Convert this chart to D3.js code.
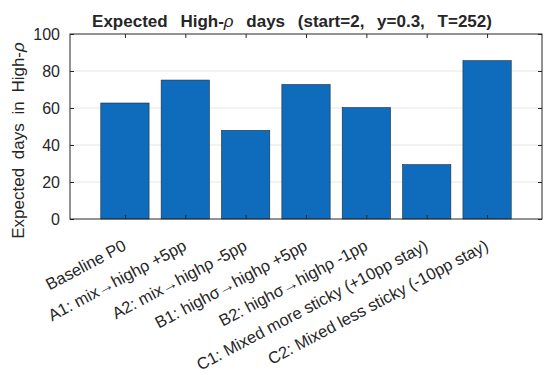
<!DOCTYPE html>
<html>
<head>
<meta charset="UTF-8">
<script src="https://d3js.org/d3.v7.min.js"></script>
<style>
  body { margin: 0; background: #fff; }
  svg text { font-family: "Liberation Sans", Arial, sans-serif; fill: #262626; }
</style>
</head>
<body>
<div id="chart"></div>
<script>
const categories = [
  "Baseline P0",
  "A1: mix\u2192high\u03c1 +5pp",
  "A2: mix\u2192high\u03c1 -5pp",
  "B1: high\u03c3\u2192high\u03c1 +5pp",
  "B2: high\u03c3\u2192high\u03c1 -1pp",
  "C1: Mixed more sticky (+10pp stay)",
  "C2: Mixed less sticky (-10pp stay)"
];
const values = [62.7, 75.1, 47.9, 72.7, 60.2, 29.4, 85.6];
const yTicks = [0, 20, 40, 60, 80, 100];

const W = 548, H = 375;
const margin = { top: 34, right: 6, bottom: 156, left: 70 };
const width = W - margin.left - margin.right,
      height = H - margin.top - margin.bottom;

const svg = d3.select("#chart").append("svg")
  .attr("width", W).attr("height", H);
const g = svg.append("g").attr("transform", `translate(${margin.left},${margin.top})`);

// x positions 1..7, MATLAB style limits
const idx = categories.map((d, i) => i + 1);
const x = d3.scaleLinear().domain([0.09, 7.91]).range([0, width]);
const y = d3.scaleLinear().domain([0, 100]).range([height, 0]);
const barW = x(1.4) - x(0.6);

// grid
g.append("g").selectAll("line").data(yTicks.slice(1, -1)).enter().append("line")
  .attr("x1", 0).attr("x2", width)
  .attr("y1", d => y(d)).attr("y2", d => y(d))
  .attr("stroke", "#e6e6e6").attr("stroke-width", 1);

// bars
g.selectAll(".bar").data(values).enter().append("rect")
  .attr("class", "bar")
  .attr("x", (d, i) => x(idx[i]) - barW / 2)
  .attr("width", barW)
  .attr("y", d => y(d))
  .attr("height", d => y(0) - y(d))
  .attr("fill", "#0f6cbd")
  .attr("stroke", "#1a2a3a").attr("stroke-width", 0.6);

// axes (MATLAB box with inward ticks)
const tickLen = 4;
const axL = g.append("g").call(d3.axisLeft(y).tickValues(yTicks).tickSizeInner(-tickLen).tickSizeOuter(0).tickPadding(10));
const axR = g.append("g").attr("transform", `translate(${width},0)`)
  .call(d3.axisRight(y).tickValues(yTicks).tickSizeInner(-tickLen).tickSizeOuter(0).tickFormat(""));
const axB = g.append("g").attr("transform", `translate(0,${height})`)
  .call(d3.axisBottom(x).tickValues(idx).tickSizeInner(-tickLen).tickSizeOuter(0).tickFormat(""));
const axT = g.append("g")
  .call(d3.axisTop(x).tickValues(idx).tickSizeInner(-tickLen).tickSizeOuter(0).tickFormat(""));
[axL, axR, axB, axT].forEach(a => {
  a.select(".domain").remove();
  a.selectAll("line").attr("stroke", "#262626");
});
axL.selectAll("text").style("font-size", "16px").attr("fill", "#262626");

g.append("rect").attr("x", 0).attr("y", 0).attr("width", width).attr("height", height)
  .attr("fill", "none").attr("stroke", "#262626").attr("stroke-width", 1);

// rotated category labels
g.append("g").selectAll("text").data(categories).enter().append("text")
  .attr("transform", (d, i) => `translate(${x(idx[i]) - 3},${height + 20}) rotate(-28)`)
  .attr("text-anchor", "end")
  .attr("dy", "0.7em")
  .style("font-size", "16.5px")
  .text(d => d);

// y label
svg.append("text")
  .attr("transform", `translate(24,${margin.top + height / 2 + 14}) rotate(-90)`)
  .attr("text-anchor", "middle")
  .style("font-size", "17px")
  .style("word-spacing", "4px")
  .html("Expected days in High-<tspan font-style='italic'>\u03c1</tspan>");

// title
svg.append("text")
  .attr("x", 292).attr("y", 27)
  .attr("text-anchor", "middle")
  .style("font-size", "17px").style("font-weight", "bold")
  .style("word-spacing", "8px")
  .html("Expected High-<tspan font-style='italic' font-weight='normal'>\u03c1</tspan> days (start=2, y=0.3, T=252)");
</script>
</body>
</html>
